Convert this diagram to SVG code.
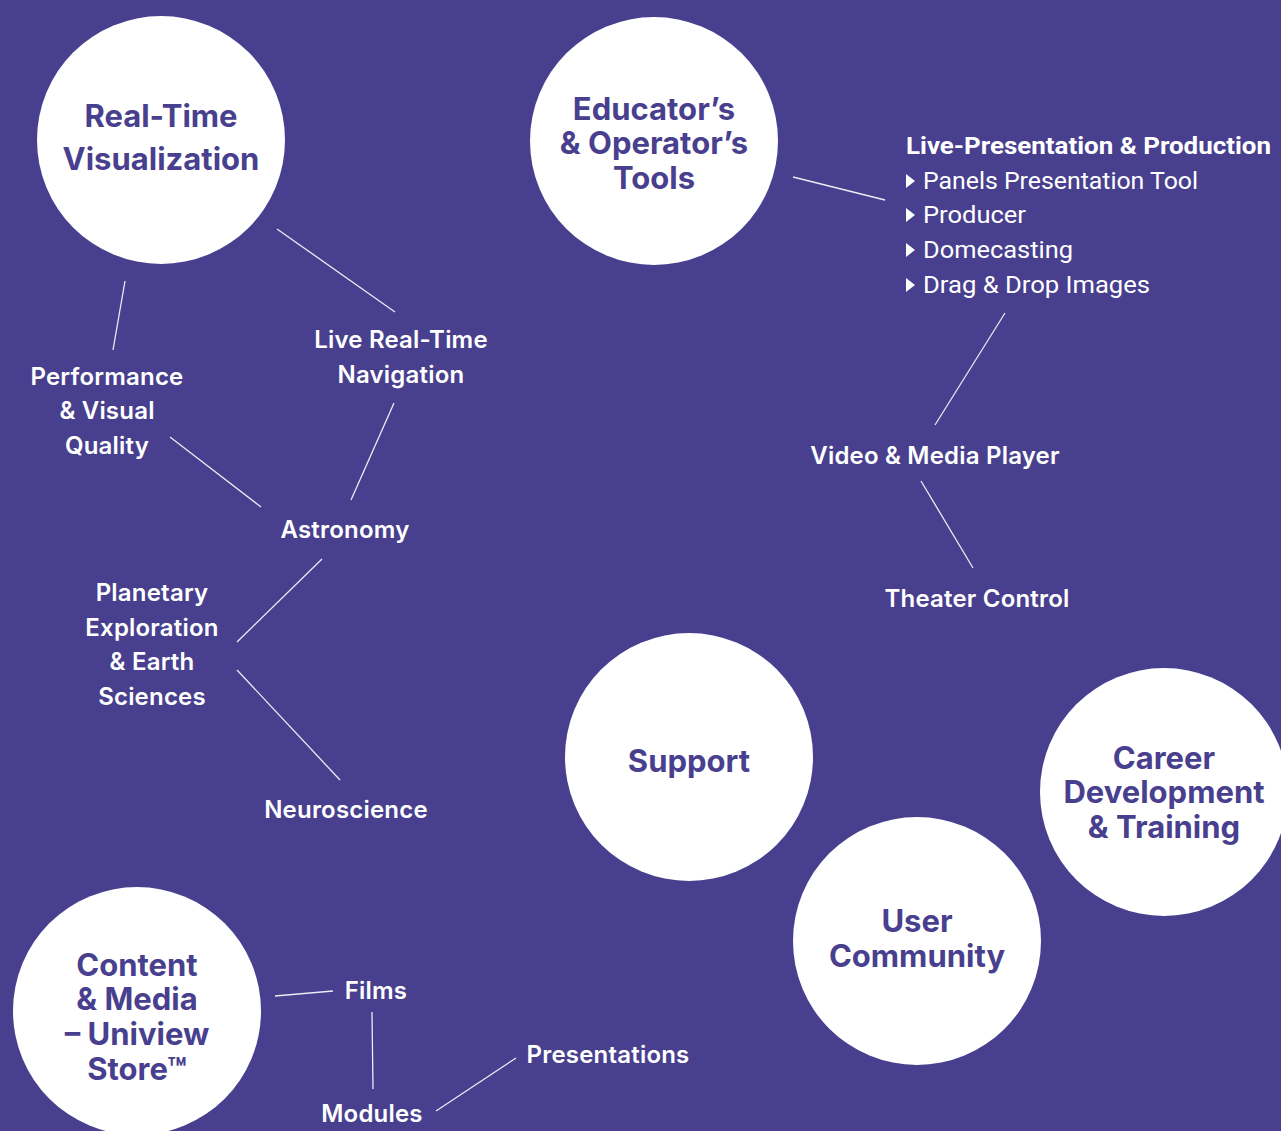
<svg xmlns="http://www.w3.org/2000/svg" width="1281" height="1131" viewBox="0 0 1281 1131">
<style>
.bg{fill:#483f8e}
.node circle{fill:#ffffff}
.title{font-family:Inter,"Liberation Sans",sans-serif;font-weight:700;font-size:31px;fill:#483f8e;text-anchor:middle;dominant-baseline:central}
.lbl{font-family:Inter,"Liberation Sans",sans-serif;font-weight:600;font-size:24px;letter-spacing:0.2px;fill:#ffffff;text-anchor:middle;dominant-baseline:central}
.hdr{font-family:Roboto,"Liberation Sans",sans-serif;font-weight:700;font-size:23px;fill:#ffffff;dominant-baseline:central}
.item{font-family:Roboto,"Liberation Sans",sans-serif;font-weight:400;font-size:24px;fill:#ffffff;dominant-baseline:central}
.tri{fill:#ffffff}
#connectors line{stroke:#ffffff;stroke-width:1.3;opacity:0.9}
</style>
<rect class="bg" width="1281" height="1131"/>
<g id="connectors">
<line x1="277" y1="229" x2="395" y2="312"/>
<line x1="125" y1="281" x2="113" y2="350"/>
<line x1="394" y1="403" x2="351" y2="500"/>
<line x1="170" y1="437" x2="261" y2="507"/>
<line x1="322" y1="559" x2="237" y2="642"/>
<line x1="237" y1="670" x2="340" y2="780"/>
<line x1="793" y1="177" x2="885" y2="200"/>
<line x1="1005" y1="313" x2="935" y2="425"/>
<line x1="921" y1="481" x2="973" y2="568"/>
<line x1="275" y1="996" x2="333" y2="991"/>
<line x1="372" y1="1012" x2="373" y2="1089"/>
<line x1="436" y1="1111" x2="516" y2="1058"/>
</g>
<g id="realtime" class="node">
<circle cx="161" cy="140" r="124"/>
<text class="title" x="161" y="115">Real-Time</text>
<text class="title" x="161" y="158">Visualization</text>
</g>
<g id="educator" class="node">
<circle cx="654" cy="141" r="124"/>
<text class="title" x="654" y="108">Educator’s</text>
<text class="title" x="654" y="142">&amp; Operator’s</text>
<text class="title" x="654" y="177">Tools</text>
</g>
<g id="support" class="node">
<circle cx="689" cy="757" r="124"/>
<text class="title" x="689" y="760">Support</text>
</g>
<g id="career" class="node">
<circle cx="1164" cy="792" r="124"/>
<text class="title" x="1164" y="757">Career</text>
<text class="title" x="1164" y="791">Development</text>
<text class="title" x="1164" y="826">&amp; Training</text>
</g>
<g id="community" class="node">
<circle cx="917" cy="941" r="124"/>
<text class="title" x="917" y="920">User</text>
<text class="title" x="917" y="955">Community</text>
</g>
<g id="content" class="node">
<circle cx="137" cy="1011" r="124"/>
<text class="title" x="137" y="964">Content</text>
<text class="title" x="137" y="998">&amp; Media</text>
<text class="title" x="137" y="1033">– Uniview</text>
<text class="title" x="137" y="1068">Store™</text>
</g>
<g id="live-nav"><text class="lbl" x="401" y="339">Live Real-Time</text><text class="lbl" x="401" y="374">Navigation</text></g>
<g id="performance"><text class="lbl" x="107" y="376">Performance</text><text class="lbl" x="107" y="410">&amp; Visual</text><text class="lbl" x="107" y="445">Quality</text></g>
<g id="astronomy"><text class="lbl" x="345" y="529">Astronomy</text></g>
<g id="planetary"><text class="lbl" x="152" y="592">Planetary</text><text class="lbl" x="152" y="627">Exploration</text><text class="lbl" x="152" y="661">&amp; Earth</text><text class="lbl" x="152" y="696">Sciences</text></g>
<g id="neuroscience"><text class="lbl" x="346" y="809">Neuroscience</text></g>
<g id="video"><text class="lbl" x="935" y="455">Video &amp; Media Player</text></g>
<g id="theater"><text class="lbl" x="977" y="598">Theater Control</text></g>
<g id="films"><text class="lbl" x="376" y="990">Films</text></g>
<g id="modules"><text class="lbl" x="372" y="1113">Modules</text></g>
<g id="presentations"><text class="lbl" x="608" y="1054">Presentations</text></g>
<g id="live-presentation">
<text class="hdr" x="906" y="146" textLength="365" lengthAdjust="spacingAndGlyphs">Live-Presentation &amp; Production</text>
<polygon class="tri" points="906,174 915,181 906,188"/>
<text class="item" x="923" y="181" textLength="275" lengthAdjust="spacingAndGlyphs">Panels Presentation Tool</text>
<polygon class="tri" points="906,208 915,215 906,222"/>
<text class="item" x="923" y="215" textLength="103" lengthAdjust="spacingAndGlyphs">Producer</text>
<polygon class="tri" points="906,243 915,250 906,257"/>
<text class="item" x="923" y="250" textLength="150" lengthAdjust="spacingAndGlyphs">Domecasting</text>
<polygon class="tri" points="906,278 915,285 906,292"/>
<text class="item" x="923" y="285" textLength="227" lengthAdjust="spacingAndGlyphs">Drag &amp; Drop Images</text>
</g>
</svg>
